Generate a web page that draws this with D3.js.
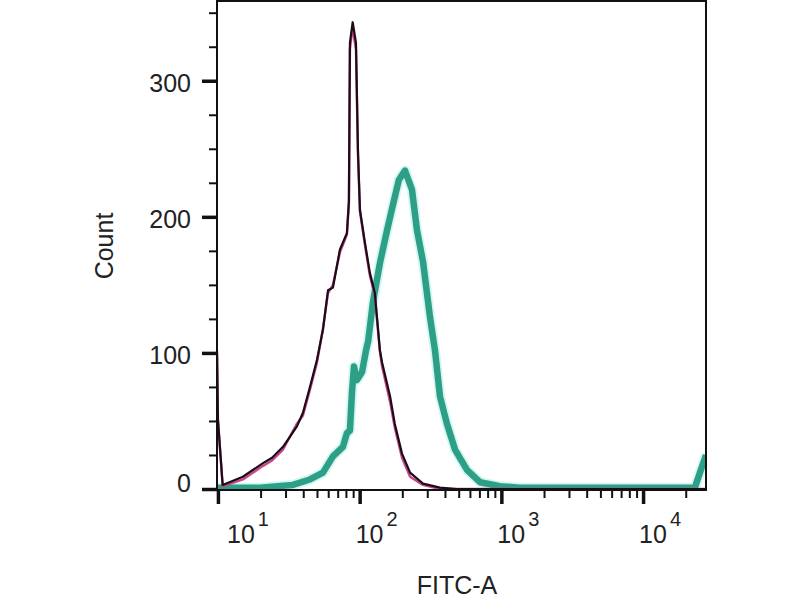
<!DOCTYPE html>
<html>
<head>
<meta charset="utf-8">
<script src="https://cdn.jsdelivr.net/npm/d3@7"></script>
<style>
  body { margin: 0; background: #fff; }
  text { font-family: "Liberation Sans", Arial, sans-serif; fill: #222; }
</style>
</head>
<body>
<div id="chart"></div>
<script>
var svgWidth = 800;
var svgHeight = 600;

// plot box in pixels
var box = { left: 217, top: 1, right: 706, bottom: 489 };

// FITC-A channel values and counts
var blackX = [9.85, 10, 10.8, 15.0, 20.8, 24.1, 28.8, 36.1, 39.8, 44.6, 50.0, 55.1, 59.8, 64.8, 72.6, 81.3, 84.0, 85.4, 89.3, 94.2,
  97.3, 100.5, 109, 118, 128, 139, 144, 164, 177, 199, 227, 280, 369, 486, 27800];
var blackCount = [102, 51, 3, 9, 19, 23, 31, 46, 56, 75, 95, 117, 146, 148, 176, 188, 212, 328, 343, 328,
  249, 205, 181, 159, 144, 102, 93, 68, 48, 26, 12, 4, 1, 0, 0];

var pinkX = [9.85, 10, 10.8, 15.0, 20.8, 24.1, 28.8, 36.1, 39.8, 44.6, 50.0, 55.1, 59.8, 64.8, 72.6, 81.3, 84.0, 85.4, 89.0, 94.2,
  97.3, 100.5, 109, 118, 128, 139, 144, 164, 177, 199, 227, 280, 369, 486, 27800];
var pinkCount = [100, 51, 2, 7, 17, 21, 29, 48, 54, 73, 93, 118, 144, 150, 174, 187, 209, 323, 339, 323,
  245, 204, 179, 157, 142, 101, 90, 64, 45, 23, 9, 3, 0, 0, 0];

var tealX = [9.85, 19.8, 33.8, 44.6, 55.1, 64.8, 76.2, 81.3, 85.4, 88.3, 91.2, 95.7, 104, 111, 115, 124, 139, 156, 172, 189,
  209, 234, 254, 280, 314, 340, 369, 413, 471, 572, 706, 977, 1352, 23200, 25200, 27800];
var tealCount = [1, 1, 3, 7, 12, 24, 31, 41, 43, 71, 90, 80, 86, 102, 109, 137, 166, 190, 209, 227,
  234, 220, 190, 167, 126, 102, 68, 48, 29, 14, 5, 2, 1, 1, 12, 25];

// axis ticks
var xDomain = [9.85, 27800];
var yDomain = [0, 358.6];
var xMajor = [10, 100, 1000, 10000];
var xMinorMult = [2, 3, 4, 5, 6, 7, 8, 9];
var yMajor = [0, 100, 200, 300];
var yMinor = [25, 50, 75, 125, 150, 175, 225, 250, 275, 325, 350];

var svg = d3.select("#chart")
  .append("svg")
  .attr("width", svgWidth)
  .attr("height", svgHeight);

var x = d3.scaleLog().domain(xDomain).range([box.left, box.right]);
var y = d3.scaleLinear().domain(yDomain).range([box.bottom, box.top]);

svg.append("clipPath")
  .attr("id", "plotClip")
  .append("rect")
  .attr("x", box.left)
  .attr("y", box.top)
  .attr("width", box.right - box.left)
  .attr("height", box.bottom - box.top);

var line = d3.line()
  .x(d => x(d[0]))
  .y(d => y(d[1]));

var plot = svg.append("g").attr("clip-path", "url(#plotClip)");

var tealData = d3.zip(tealX, tealCount);
plot.append("path")
  .datum(tealData)
  .attr("d", line)
  .attr("fill", "none")
  .attr("stroke", "#d2f6f2")
  .attr("stroke-width", 10)
  .attr("stroke-linejoin", "round");
plot.append("path")
  .datum(tealData)
  .attr("d", line)
  .attr("fill", "none")
  .attr("stroke", "#2d9f86")
  .attr("stroke-width", 6.5)
  .attr("stroke-linejoin", "round");

plot.append("path")
  .datum(d3.zip(pinkX, pinkCount))
  .attr("d", line)
  .attr("fill", "none")
  .attr("stroke", "#c8468a")
  .attr("stroke-width", 2.4)
  .attr("stroke-linejoin", "round");

plot.append("path")
  .datum(d3.zip(blackX, blackCount))
  .attr("d", line)
  .attr("fill", "none")
  .attr("stroke", "#1c0c18")
  .attr("stroke-width", 2.2)
  .attr("stroke-linejoin", "round");

// frame
svg.append("rect")
  .attr("x", box.left)
  .attr("y", box.top)
  .attr("width", box.right - box.left)
  .attr("height", box.bottom - box.top + 1)
  .attr("fill", "none")
  .attr("stroke", "#111")
  .attr("stroke-width", 2);

// x axis ticks
var minorX = [];
xMajor.forEach(function(m) {
  xMinorMult.forEach(function(k) {
    var v = m * k;
    if (v <= xDomain[1]) minorX.push(v);
  });
});

var xAxisMinor = d3.axisBottom(x).tickValues(minorX).tickSize(8).tickFormat("");
var xAxisMajor = d3.axisBottom(x).tickValues(xMajor).tickSize(14).tickFormat("");

svg.append("g")
  .attr("transform", `translate(0, ${box.bottom + 1})`)
  .call(xAxisMinor)
  .call(g => g.select(".domain").remove())
  .call(g => g.selectAll("line").attr("stroke", "#111").attr("stroke-width", 2));

svg.append("g")
  .attr("transform", `translate(0, ${box.bottom + 1})`)
  .call(xAxisMajor)
  .call(g => g.select(".domain").remove())
  .call(g => g.selectAll("line").attr("stroke", "#111").attr("stroke-width", 3.5));

// x tick labels, 10 with a superscript power
var xLabels = svg.append("g");
xMajor.forEach(function(v) {
  var t = xLabels.append("text")
    .attr("x", Math.max(x(v) - 4, box.left + 10))
    .attr("y", 543)
    .attr("font-size", "25px");
  t.append("tspan").text("10");
  t.append("tspan")
    .attr("dx", 3)
    .attr("dy", -17)
    .attr("font-size", "20px")
    .text(Math.round(Math.log10(v)));
});

// y axis ticks
var yAxisMinor = d3.axisLeft(y).tickValues(yMinor).tickSize(8).tickFormat("");
var yAxisMajor = d3.axisLeft(y).tickValues(yMajor).tickSize(15).tickFormat("");

svg.append("g")
  .attr("transform", `translate(${box.left}, 0)`)
  .call(yAxisMinor)
  .call(g => g.select(".domain").remove())
  .call(g => g.selectAll("line").attr("stroke", "#111").attr("stroke-width", 2));

svg.append("g")
  .attr("transform", `translate(${box.left}, 0)`)
  .call(yAxisMajor)
  .call(g => g.select(".domain").remove())
  .call(g => g.selectAll("line").attr("stroke", "#111").attr("stroke-width", 3.5));

svg.append("g")
  .selectAll("text")
  .data(yMajor)
  .enter()
  .append("text")
  .attr("x", 191)
  .attr("y", d => y(d) + (d === 0 ? 3 : 11))
  .attr("text-anchor", "end")
  .attr("font-size", "25px")
  .text(d => d);

// axis titles
svg.append("text")
  .attr("x", 457)
  .attr("y", 594)
  .attr("text-anchor", "middle")
  .attr("font-size", "25px")
  .text("FITC-A");

svg.append("text")
  .attr("transform", "translate(113, 246) rotate(-90)")
  .attr("text-anchor", "middle")
  .attr("font-size", "25px")
  .text("Count");
</script>
</body>
</html>
